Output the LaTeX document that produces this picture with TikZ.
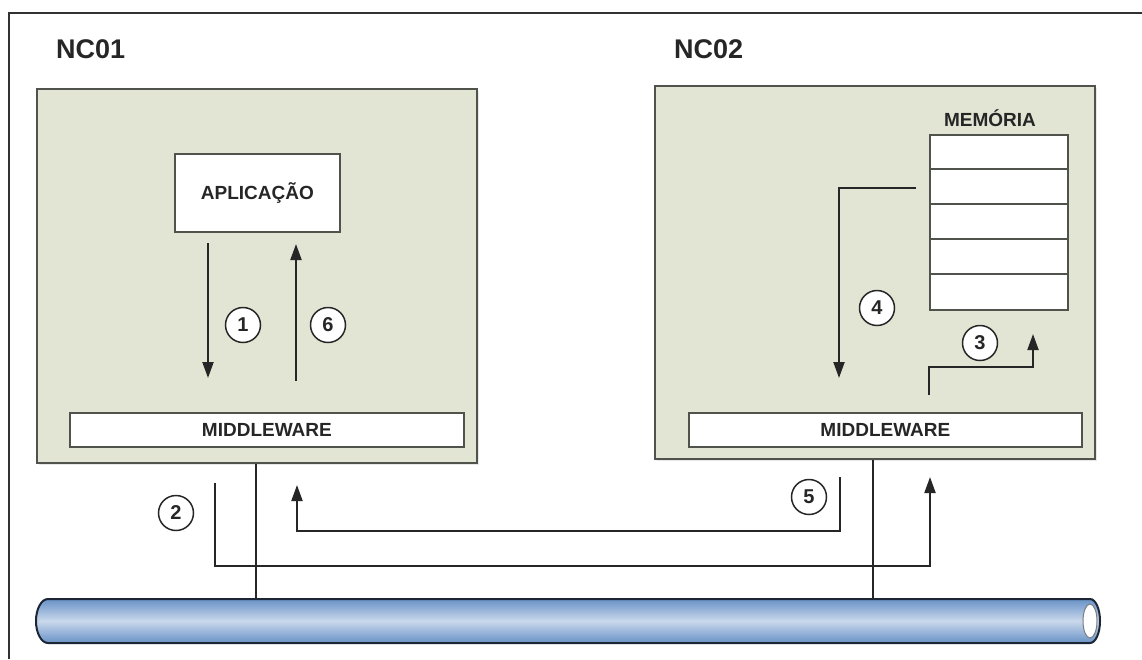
\documentclass[tikz,border=0pt]{standalone}
\usepackage{fontspec}
\setmainfont{Liberation Sans}
\usetikzlibrary{arrows.meta,shadows}
\definecolor{boxfill}{RGB}{226,229,211}
\definecolor{boxline}{RGB}{80,82,76}
\definecolor{ink}{RGB}{38,38,38}
\definecolor{frameline}{RGB}{50,50,50}
\definecolor{tubeedge}{RGB}{104,146,198}
\definecolor{tubemid}{RGB}{202,216,236}
\definecolor{tubeline}{RGB}{28,38,52}
\begin{document}
\begin{tikzpicture}[x=1pt,y=-1pt,
  nodebox/.style={draw=boxline, line width=2.2pt, fill=boxfill, inner sep=0pt, anchor=north west,
    drop shadow={opacity=0.18, shadow xshift=2pt, shadow yshift=-2pt}},
  whitebox/.style={draw=boxline, line width=1.8pt, fill=white, inner sep=0pt, anchor=north west},
  lbl/.style={font=\fontsize{19}{22}\selectfont\bfseries, text=ink, inner sep=0pt},
  titlelbl/.style={font=\fontsize{27}{30}\selectfont\bfseries, text=ink, inner sep=0pt, anchor=west},
  num/.style={circle, draw=ink, line width=1.5pt, fill=white, minimum size=35pt, inner sep=0pt, font=\fontsize{20}{22}\selectfont\bfseries, text=ink},
  flow/.style={draw=ink, line width=2pt},
  tipped/.style={-{Triangle[width=11pt,length=16pt]}},
]
\useasboundingbox (0,0) rectangle (1142,659);
\fill[white] (0,0) rectangle (1142,659);
% outer frame
\draw[frameline, line width=1.8pt] (9,659) -- (9,13) -- (1142,13);

% titles
\node[titlelbl] (t1) at (56,49) {NC01};
\node[titlelbl] (t2) at (674,49) {NC02};

% computer boxes
\node[nodebox, minimum width=440pt, minimum height=374pt] (nc01) at (36,88) {};
\node[nodebox, minimum width=440pt, minimum height=373pt] (nc02) at (654,85) {};

% application
\node[whitebox, minimum width=165pt, minimum height=78pt] (app) at (174,153) {};
\node[lbl] (applbl) at (app.center) {APLICAÇÃO};

% middleware
\node[whitebox, minimum width=394pt, minimum height=34pt] (mw1) at (69,412) {};
\node[lbl] (mw1lbl) at (mw1.center) {MIDDLEWARE};
\node[whitebox, minimum width=393pt, minimum height=34pt] (mw2) at (688,412) {};
\node[lbl] (mw2lbl) at (mw2.center) {MIDDLEWARE};

% memory
\node[lbl] (memlbl) at (990,118) {MEMÓRIA};
\node[whitebox, minimum width=138pt, minimum height=175pt] (mem) at (929,134) {};
\foreach \yy in {169,204,239,274} {
  \draw[boxline, line width=1.8pt] (929,\yy) -- (1067,\yy);
}

% numbered circles
\node[num] (c1) at (243,325) {1};
\node[num] (c6) at (328,325) {6};
\node[num] (c4) at (877,308) {4};
\node[num] (c3) at (980,343) {3};
\node[num] (c2) at (176,513) {2};
\node[num] (c5) at (809,497) {5};

% coordinates of free ends
\coordinate (a1s) at (208,243);
\coordinate (a1e) at (208,378);
\coordinate (a6s) at (296,381);
\coordinate (a6e) at (296,244);
\coordinate (a4s) at (916,188);
\coordinate (a4k) at (839,188);
\coordinate (a4e) at (839,378);
\coordinate (a3s) at (929,395);
\coordinate (a3k1) at (929,367);
\coordinate (a3k2) at (1033,367);
\coordinate (a3e) at (1033,334);
\coordinate (a2s) at (215,483);
\coordinate (a2k1) at (215,566);
\coordinate (a2k2) at (930,566);
\coordinate (a2e) at (930,477);
\coordinate (a5s) at (840,477);
\coordinate (a5k1) at (840,531);
\coordinate (a5k2) at (297,531);
\coordinate (a5e) at (297,485);
\coordinate (bus1) at (256,599);
\coordinate (bus2) at (873,599);

% network tube
\shade[top color=tubeedge, bottom color=tubeedge, middle color=tubemid]
  (48,599) -- (1090,599) arc[start angle=-90, end angle=90, x radius=10, y radius=22]
  -- (48,643) arc[start angle=90, end angle=270, x radius=12, y radius=22] -- cycle;
\draw[tubeline, line width=2pt]
  (48,599) -- (1090,599) arc[start angle=-90, end angle=90, x radius=10, y radius=22]
  -- (48,643) arc[start angle=90, end angle=270, x radius=12, y radius=22] -- cycle;
\draw[fill=white, draw=tubeline!60, line width=1pt] (1090,621) ellipse[x radius=7, y radius=17];

% bus drops
\draw[flow] (nc01.south -| bus1) -- (bus1);
\draw[flow] (nc02.south -| bus2) -- (bus2);

% flows
\draw[flow, tipped] (a1s) -- (a1e);
\draw[flow, tipped] (a6s) -- (a6e);
\draw[flow, tipped] (a4s) -- (a4k) -- (a4e);
\draw[flow, tipped] (a3s) -- (a3k1) -- (a3k2) -- (a3e);
\draw[flow, tipped] (a2s) -- (a2k1) -- (a2k2) -- (a2e);
\draw[flow, tipped] (a5s) -- (a5k1) -- (a5k2) -- (a5e);
\end{tikzpicture}
\end{document}
